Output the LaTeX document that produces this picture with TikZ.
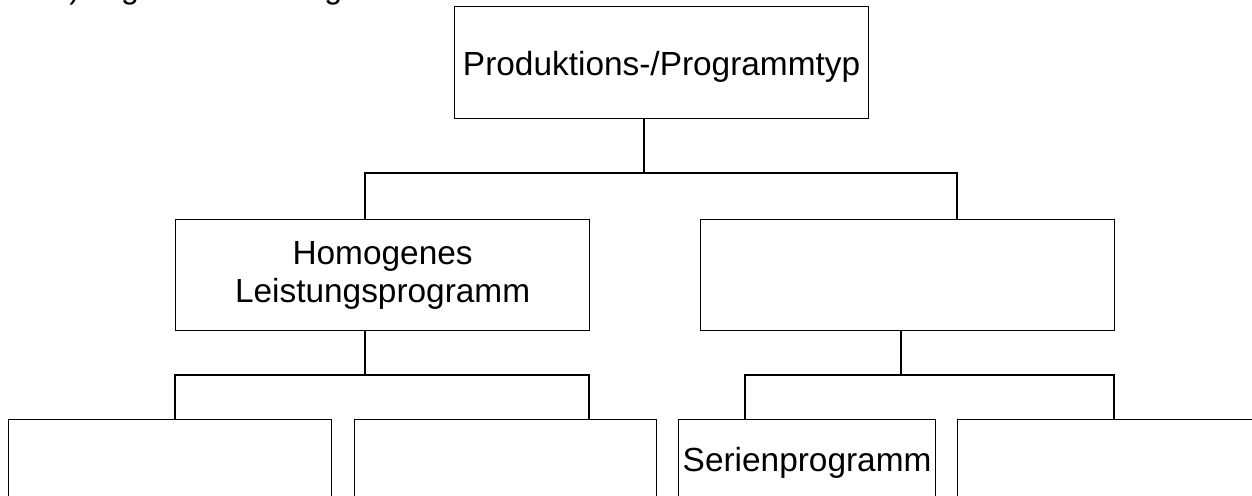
\documentclass[tikz,border=0pt]{standalone}
\usepackage{fontspec}
\setmainfont{Liberation Sans}
\begin{document}
\begin{tikzpicture}[x=1pt,y=-1pt,
  line width=1.2pt,
  box/.style={draw=black, rectangle, inner sep=0pt, anchor=north west,
    font=\fontsize{33.4}{38}\selectfont, align=center},
  conn/.style={draw=black, line width=1.2pt, line cap=rect}]
\useasboundingbox (0,0) rectangle (1252,495);
\clip (0,0) rectangle (1252,495);
% clipped heading line (only descenders visible)
\node[anchor=base west, inner sep=0pt, font=\fontsize{32.1}{38}\selectfont] (head) at (50.9,-1.5) {a) Ergänzen Sie folgende Übersicht};
% boxes
\node[box, minimum width=414pt, minimum height=111.5pt, text height=26pt, text depth=0pt] (top) at (454,6) {Produktions-/Programmtyp};
\node[box, minimum width=414pt, minimum height=111pt] (hom) at (175,219) {Homogenes\\Leistungsprogramm};
\node[box, minimum width=414pt, minimum height=111pt] (het) at (700,219) {};
\node[box, minimum width=323pt, minimum height=90pt] (b1) at (8,419) {};
\node[box, minimum width=302pt, minimum height=90pt] (b2) at (354,419) {};
\node[box, minimum width=257pt, minimum height=78pt, text height=26pt, text depth=0pt] (b3) at (678,419) {Serienprogramm};
\node[box, minimum width=400pt, minimum height=90pt] (b4) at (957,419) {};
% junction coordinates
\coordinate (j0) at (644,173);
\coordinate (j0L) at (365,173);
\coordinate (j0R) at (957,173);
\coordinate (j1) at (365,375);
\coordinate (j1L) at (175,375);
\coordinate (j1R) at (589,375);
\coordinate (j2) at (901,375);
\coordinate (j2L) at (745,375);
\coordinate (j2R) at (1114,375);
% connectors level 1
\draw[conn] (top.south -| j0) -- (j0);
\draw[conn] (hom.north -| j0L) -- (j0L) -- (j0R) -- (het.north -| j0R);
% connectors level 2 left
\draw[conn] (hom.south -| j1) -- (j1);
\draw[conn] (b1.north -| j1L) -- (j1L) -- (j1R) -- (b2.north -| j1R);
% connectors level 2 right
\draw[conn] (het.south -| j2) -- (j2);
\draw[conn] (b3.north -| j2L) -- (j2L) -- (j2R) -- (b4.north -| j2R);
\end{tikzpicture}
\end{document}
